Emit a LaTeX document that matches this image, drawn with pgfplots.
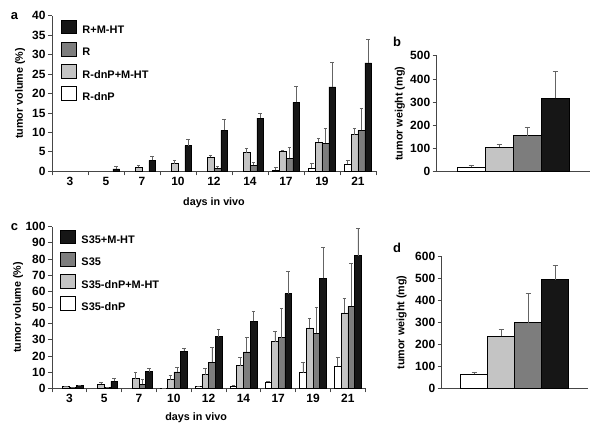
\documentclass[border=0pt]{standalone}
\usepackage{fontspec}
\setmainfont{Liberation Sans}
\usepackage{pgfplots}
\pgfplotsset{compat=1.18}

\definecolor{cW}{RGB}{255,255,255}
\definecolor{cL}{RGB}{196,196,196}
\definecolor{cD}{RGB}{125,125,125}
\definecolor{cK}{RGB}{22,22,22}
\definecolor{axc}{RGB}{70,70,70}
\definecolor{errc}{RGB}{100,100,100}

\tikzset{lab/.style={font=\fontsize{10.8}{12}\selectfont\bfseries}}
\pgfplotsset{
  mylegend/.style={legend image code/.code={\draw[##1,draw=black,line width=0.5pt] (0bp,-2.9bp) rectangle (15bp,10.6bp);}},
  panel/.style={
    scale only axis,
    axis x line=bottom, axis y line=left,
    axis line style={-, axc, line width=0.7pt},
    ymin=0, enlarge x limits=false, enlarge y limits=false,
    tick align=outside, major tick length=4bp,
    tick style={axc, line width=0.7pt},
    /pgf/number format/assume math mode=true,
    ticklabel style={font=\fontsize{12}{13}\selectfont\bfseries},
    yticklabel style={xshift=1bp},
    xticklabel style={yshift=-2bp},
    ybar=0pt,
    error bars/y dir=plus, error bars/y explicit,
    error bars/error bar style={errc, line width=0.6pt},
    error bars/error mark options={rotate=90, errc, mark size=1.8bp, line width=0.6pt},
    every axis plot/.append style={draw=black, line width=0.5pt},
    every axis plot post/.append style={mylegend},
    legend style={draw=none, fill=none, inner sep=0pt, outer sep=0pt,
      font=\fontsize{11}{12}\selectfont\bfseries,
      nodes={inner sep=0pt}, row sep=6.7bp,
      /tikz/every odd column/.append style={column sep=6bp}},
    legend cell align=left, reverse legend,
  },
}

\begin{document}
\begin{tikzpicture}
\useasboundingbox (0,0) rectangle (604bp,431bp);

% ---------------- panel a ----------------
\begin{axis}[panel,
  at={(52bp,259.7bp)}, anchor=south west,
  width=324bp, height=155.6bp,
  xmin=0.5, xmax=9.5, ymax=40,
  ytick={0,5,...,40},
  bar width=6.8bp,
  xtick={0.5,1.5,...,9.5}, xticklabels={,,,,,,,,,},
  extra x ticks={1,...,9},
  extra x tick labels={3,5,7,10,12,14,17,19,21},
  extra x tick style={major tick length=0pt},
  ylabel={tumor volume (\%)}, xlabel={days in vivo},
  every axis y label/.style={lab, at={(axis description cs:-0.0988,0.5)}, rotate=90, anchor=center},
  every axis x label/.style={lab, at={(axis description cs:0.5,-0.2)}, anchor=center},
  legend style={at={(axis description cs:0,1)}, anchor=north west, xshift=9bp, yshift=-4.3bp},
]
\addplot[fill=cW] table[x=x,y=y,y error=e] {
x y e
7 0.3 0.7
8 0.8 1.2
9 1.8 1.0
};
\addplot[fill=cL] table[x=x,y=y,y error=e] {
x y e
3 1.0 0.5
4 2.0 0.7
5 3.6 0.4
6 4.8 1.0
7 5.1 0.4
8 7.5 1.1
9 9.4 1.6
};
\addplot[fill=cD] table[x=x,y=y,y error=e] {
x y e
5 0.8 0.6
6 1.5 0.7
7 3.4 2.7
8 7.2 3.8
9 10.5 5.7
};
\addplot[fill=cK] table[x=x,y=y,y error=e] {
x y e
2 0.6 0.6
3 2.8 1.0
4 6.6 1.7
5 10.5 2.8
6 13.7 1.1
7 17.7 4.1
8 21.7 6.4
9 27.9 6.0
};
\legend{R-dnP, R-dnP+M-HT, R, R+M-HT}
\end{axis}

% ---------------- panel c ----------------
\begin{axis}[panel,
  at={(52bp,42.7bp)}, anchor=south west,
  width=313.2bp, height=161.7bp,
  xmin=0.5, xmax=9.5, ymax=100,
  ytick={0,10,...,100},
  bar width=6.7bp,
  xtick={0.5,1.5,...,9.5}, xticklabels={,,,,,,,,,},
  extra x ticks={1,...,9},
  extra x tick labels={3,5,7,10,12,14,17,19,21},
  extra x tick style={major tick length=0pt},
  ylabel={tumor volume (\%)}, xlabel={days in vivo},
  every axis y label/.style={lab, at={(axis description cs:-0.1086,0.5)}, rotate=90, anchor=center},
  every axis x label/.style={lab, at={(axis description cs:0.46,-0.185)}, anchor=center},
  legend style={at={(axis description cs:0,1)}, anchor=north west, xshift=8bp, yshift=-3.3bp},
]
\addplot[fill=cW] table[x=x,y=y,y error=e] {
x y e
4 0.3 0.0
5 1.0 0.5
6 1.5 0.3
7 4.0 0.6
8 9.7 6.3
9 13.6 5.6
};
\addplot[fill=cL] table[x=x,y=y,y error=e] {
x y e
1 1.0 0.4
2 2.5 1.5
3 6.0 4.2
4 5.4 2.9
5 8.5 3.6
6 14.0 5.1
7 28.9 6.4
8 37.3 6.0
9 46.6 9.1
};
\addplot[fill=cD] table[x=x,y=y,y error=e] {
x y e
1 0.5 0.0
2 0.8 0.0
3 2.5 3.0
4 10.1 2.7
5 16.1 9.5
6 22.5 8.8
7 31.3 18.3
8 34.0 16.4
9 50.7 26.6
};
\addplot[fill=cK] table[x=x,y=y,y error=e] {
x y e
1 1.7 0.0
2 4.3 1.7
3 10.3 1.9
4 22.9 1.6
5 32.0 4.2
6 41.4 6.3
7 58.6 13.6
8 68.0 19.3
9 82.1 16.7
};
\legend{S35-dnP, S35-dnP+M-HT, S35, S35+M-HT}
\end{axis}

% ---------------- panel b ----------------
\begin{axis}[panel,
  at={(436.7bp,259.3bp)}, anchor=south west,
  width=153bp, height=116bp,
  xmin=-1, xmax=1, ymax=500,
  ytick={0,100,...,500}, xtick=\empty,
  bar width=28bp,
  error bars/error mark options={rotate=90, errc, mark size=2.5bp, line width=0.6pt},
  ylabel={tumor weight (mg)},
  every axis y label/.style={lab, at={(axis description cs:-0.24,0.5)}, rotate=90, anchor=center},
]
\addplot[fill=cW] table[x=x,y=y,y error=e] {
x y e
0 18.7 7
};
\addplot[fill=cL] table[x=x,y=y,y error=e] {
x y e
0 106 13
};
\addplot[fill=cD] table[x=x,y=y,y error=e] {
x y e
0 155 38
};
\addplot[fill=cK] table[x=x,y=y,y error=e] {
x y e
0 316 116
};
\end{axis}

% ---------------- panel d ----------------
\begin{axis}[panel,
  at={(441.7bp,42.7bp)}, anchor=south west,
  width=146bp, height=131.7bp,
  xmin=-1, xmax=1, ymax=600,
  ytick={0,100,...,600}, xtick=\empty,
  bar width=27bp,
  error bars/error mark options={rotate=90, errc, mark size=2.5bp, line width=0.6pt},
  ylabel={tumor weight (mg)},
  every axis y label/.style={lab, at={(axis description cs:-0.274,0.5)}, rotate=90, anchor=center},
]
\addplot[fill=cW] table[x=x,y=y,y error=e] {
x y e
0 64 9
};
\addplot[fill=cL] table[x=x,y=y,y error=e] {
x y e
0 236 33
};
\addplot[fill=cD] table[x=x,y=y,y error=e] {
x y e
0 299 134
};
\addplot[fill=cK] table[x=x,y=y,y error=e] {
x y e
0 495 64
};
\end{axis}

\node[font=\fontsize{13}{14}\selectfont\bfseries] at (14.5bp,415bp) {a};
\node[font=\fontsize{13}{14}\selectfont\bfseries] at (14.5bp,203.5bp) {c};
\node[font=\fontsize{13}{14}\selectfont\bfseries] at (397bp,389bp) {b};
\node[font=\fontsize{13}{14}\selectfont\bfseries] at (397bp,183bp) {d};
\end{tikzpicture}
\end{document}
